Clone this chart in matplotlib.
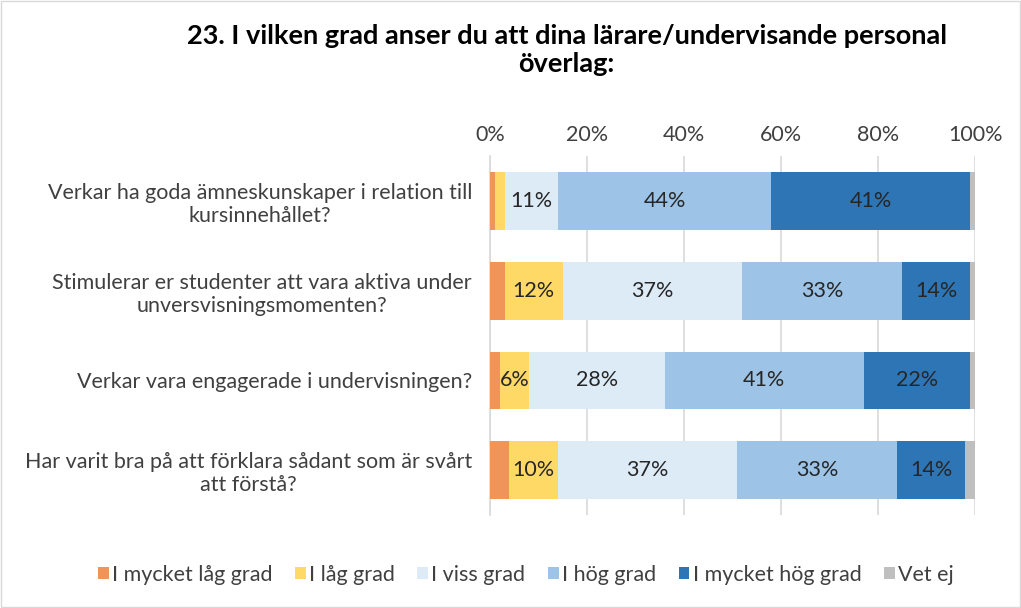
import numpy as np
import matplotlib.pyplot as plt

plt.rcParams['font.family'] = ['Lato', 'DejaVu Sans']

# data
categories = [
    "Verkar ha goda ämneskunskaper i relation till\nkursinnehållet?",
    "Stimulerar er studenter att vara aktiva under\nunversvisningsmomenten?",
    "Verkar vara engagerade i undervisningen?",
    "Har varit bra på att förklara sådant som är svårt\natt förstå?",
]
series_names = ["I mycket låg grad", "I låg grad", "I viss grad",
                "I hög grad", "I mycket hög grad", "Vet ej"]
mycket_lag = [1, 3, 2, 4]
lag = [2, 12, 6, 10]
viss = [11, 37, 28, 37]
hog = [44, 33, 41, 33]
mycket_hog = [41, 14, 22, 14]
vet_ej = [1, 1, 1, 2]
xticks = [0, 20, 40, 60, 80, 100]

values = [mycket_lag, lag, viss, hog, mycket_hog, vet_ej]
colors = ['#F0955A', '#FFD966', '#DDEBF7', '#9DC3E6', '#2E75B6', '#BFBFBF']
txt = '#404040'

fig = plt.figure(figsize=(10.21, 6.08), dpi=100)
ax = fig.add_axes([0.48, 0.153, 0.475, 0.59])

y = np.arange(len(categories))
left = np.zeros(len(categories))
for name, vals, col in zip(series_names, values, colors):
    vals = np.array(vals, dtype=float)
    ax.barh(y, vals, left=left, height=0.645, color=col, label=name, zorder=3)
    for yi, l, v in zip(y, left, vals):
        if v >= 6:
            ax.text(l + v / 2, yi, f"{v:.0f}%", ha='center', va='center',
                    fontsize=15.5, color='#262626', zorder=4)
    left += vals

ax.set_xlim(0, 100)
ax.set_ylim(len(categories) - 0.5, -0.5)
ax.set_yticks(y)
ax.set_yticklabels(categories, fontsize=15.5, color=txt)
for lab in ax.get_yticklabels():
    lab.set_multialignment('center')
ax.set_xticks(xticks)
ax.set_xticklabels([f"{t}%" for t in xticks], fontsize=15.5, color=txt)
ax.xaxis.tick_top()
ax.tick_params(axis='x', length=0, pad=8)
ax.tick_params(axis='y', length=0, pad=13)
ax.grid(axis='x', color='#D9D9D9', linewidth=1.2, zorder=0)
for s in ['top', 'right', 'bottom']:
    ax.spines[s].set_visible(False)
ax.spines['left'].set_color('#D9D9D9')
ax.spines['left'].set_linewidth(1.2)

fig.text(0.555, 0.917, "23. I vilken grad anser du att dina lärare/undervisande personal\növerlag:",
         ha='center', va='center', fontsize=19.5, fontweight='bold', color='black',
         linespacing=1.2)

handles, labels = ax.get_legend_handles_labels()
fig.legend(handles, labels, loc='center', bbox_to_anchor=(0.515, 0.055), ncol=6,
           frameon=False, fontsize=15.5, handlelength=0.5, handleheight=0.5,
           handletextpad=0.15, columnspacing=1.05, labelcolor=txt)

# outer border
fig.patches.append(plt.Rectangle((0.001, 0.001), 0.998, 0.998, transform=fig.transFigure,
                                 fill=False, edgecolor='#D9D9D9', linewidth=1))

fig.savefig('out.png', dpi=100)
